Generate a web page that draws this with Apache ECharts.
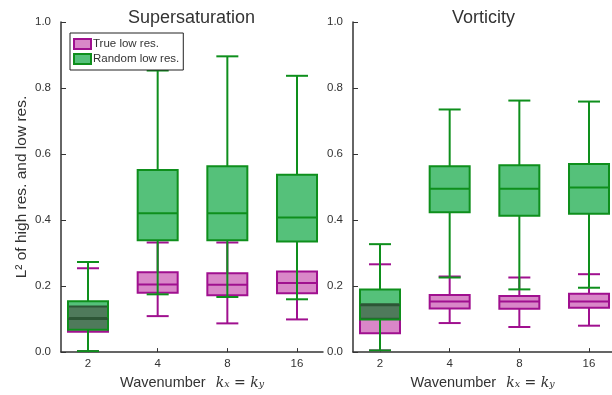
<!DOCTYPE html>
<html>
<head>
<meta charset="utf-8">
<script src="https://cdn.jsdelivr.net/npm/echarts@6/dist/echarts.min.js"></script>
<style>
  html, body { margin: 0; padding: 0; background: #fff; }
  #main { width: 612px; height: 395px; }
</style>
</head>
<body>
<div id="main"></div>
<script>
// x categories
var waves = ['2', '4', '8', '16'];

// each box: [min, Q1, median, Q3, max]
var satTrue = [
  [0.003, 0.062, 0.103, 0.138, 0.254],
  [0.109, 0.180, 0.205, 0.242, 0.332],
  [0.087, 0.172, 0.204, 0.239, 0.332],
  [0.099, 0.178, 0.209, 0.244, 0.340]
];
var satRandom = [
  [0.003, 0.068, 0.100, 0.154, 0.273],
  [0.175, 0.339, 0.421, 0.552, 0.853],
  [0.167, 0.339, 0.421, 0.563, 0.896],
  [0.160, 0.335, 0.408, 0.537, 0.837]
];
var vorTrue = [
  [0.005, 0.057, 0.101, 0.145, 0.266],
  [0.088, 0.132, 0.153, 0.173, 0.229],
  [0.076, 0.131, 0.153, 0.170, 0.226],
  [0.080, 0.134, 0.153, 0.177, 0.236]
];
var vorRandom = [
  [0.005, 0.099, 0.142, 0.190, 0.327],
  [0.226, 0.424, 0.495, 0.563, 0.735],
  [0.190, 0.413, 0.495, 0.566, 0.762],
  [0.195, 0.419, 0.499, 0.570, 0.759]
];

var pinkFill = '#d987c8', pinkLine = '#a0108f';
var greenFill = '#55c17a', greenLine = '#0e8f1c';
var mixFill = '#4f7a5b', mixLine = '#2d5636';   // where the two boxes overlap
var font = 'Liberation Sans, Arial, sans-serif';

function toData(list){
  return list.map(function(v, i){ return [i].concat(v); });
}

// under = the other series' boxes drawn below this one (for the darker overlap)
function boxRenderer(fill, stroke, under){
  return function(params, api){
    var x = api.value(0);
    var p = [];
    for (var i = 1; i <= 5; i++) p.push(api.coord([x, api.value(i)]));
    var cx = p[0][0], hw = 20, cw = 11;
    var ls = {stroke: stroke, lineWidth: 2, fill: null};
    var kids = [
      {type: 'line', shape: {x1: cx, y1: p[4][1], x2: cx, y2: p[3][1]}, style: ls},
      {type: 'line', shape: {x1: cx, y1: p[0][1], x2: cx, y2: p[1][1]}, style: ls},
      {type: 'line', shape: {x1: cx - cw, y1: p[4][1], x2: cx + cw, y2: p[4][1]}, style: ls},
      {type: 'line', shape: {x1: cx - cw, y1: p[0][1], x2: cx + cw, y2: p[0][1]}, style: ls},
      {type: 'rect', shape: {x: cx - hw, y: p[3][1], width: 2 * hw, height: p[1][1] - p[3][1]},
        style: {fill: fill, stroke: null}}
    ];
    var medColor = stroke;
    if (under) {
      var u = under[params.dataIndex];
      var lo = Math.max(u[1], api.value(2)), hi = Math.min(u[3], api.value(4));
      if (hi > lo) {
        var a = api.coord([x, hi]), b = api.coord([x, lo]);
        kids.push({type: 'rect', shape: {x: cx - hw, y: a[1], width: 2 * hw, height: b[1] - a[1]},
          style: {fill: mixFill, stroke: null}});
        // lines of the lower box seen through the overlap
        [u[1], u[2], u[3]].forEach(function(v){
          if (v >= lo && v <= hi) {
            var q = api.coord([x, v]);
            kids.push({type: 'line', shape: {x1: cx - hw, y1: q[1], x2: cx + hw, y2: q[1]},
              style: {stroke: mixLine, lineWidth: 2}});
          }
        });
        if (api.value(3) >= lo && api.value(3) <= hi) medColor = mixLine;
      }
    }
    kids.push({type: 'rect', shape: {x: cx - hw, y: p[3][1], width: 2 * hw, height: p[1][1] - p[3][1]},
      style: {fill: null, stroke: stroke, lineWidth: 2}});
    kids.push({type: 'line', shape: {x1: cx - hw, y1: p[2][1], x2: cx + hw, y2: p[2][1]},
      style: {stroke: medColor, lineWidth: 2}});
    return {type: 'group', children: kids};
  };
}

function xAxisFor(idx, max){
  return {
    type: 'value', gridIndex: idx, min: -0.3876, max: max,
    axisLine: {onZero: false, lineStyle: {color: '#333', width: 1.5}},
    axisTick: {inside: true, length: 4, customValues: [0, 1, 2, 3], lineStyle: {color: '#333'}},
    axisLabel: {customValues: [0, 1, 2, 3], color: '#333', fontSize: 11.5, margin: 6,
      formatter: function(v){ return waves[Math.round(v)]; }},
    splitLine: {show: false},
    name: '{w|Wavenumber}   {m|k}{s|x}{m| = k}{s|y}',
    nameLocation: 'middle', nameGap: 17,
    nameTextStyle: {rich: {
      w: {fontSize: 14.5, color: '#333', fontFamily: font, verticalAlign: 'bottom', lineHeight: 18},
      m: {fontSize: 14, color: '#333', fontFamily: 'DejaVu Serif, serif', fontStyle: 'italic', verticalAlign: 'bottom', lineHeight: 18},
      s: {fontSize: 9.5, color: '#333', fontFamily: 'DejaVu Serif, serif', fontStyle: 'italic', verticalAlign: 'bottom', lineHeight: 14}
    }}
  };
}

function yAxisFor(idx, withName){
  var ax = {
    type: 'value', gridIndex: idx, min: 0, max: 1, interval: 0.2,
    axisLine: {show: true, onZero: false, lineStyle: {color: '#333', width: 1.5}},
    axisTick: {show: true, inside: true, length: 5, lineStyle: {color: '#333'}},
    axisLabel: {color: '#333', fontSize: 11.5, margin: 10,
      formatter: function(v){ return v.toFixed(1); }},
    splitLine: {show: false}
  };
  if (withName) {
    ax.name = 'L\u00b2 of high res. and low res.';
    ax.nameLocation = 'middle';
    ax.nameGap = 31;
    ax.nameTextStyle = {fontSize: 15.5, color: '#333', fontFamily: font};
  }
  return ax;
}

function boxSeries(name, list, idx, fill, stroke, under){
  return {
    name: name, type: 'custom', xAxisIndex: idx, yAxisIndex: idx,
    data: toData(list), encode: {x: 0, y: [1, 2, 3, 4, 5]},
    itemStyle: {color: fill, borderColor: stroke},
    clip: false, silent: true,
    renderItem: boxRenderer(fill, stroke, under)
  };
}

var myChart = echarts.init(document.getElementById('main'), null, {renderer: 'canvas'});
myChart.setOption({
  animation: false,
  backgroundColor: '#fff',
  textStyle: {fontFamily: font},
  title: [
    {text: 'Supersaturation', left: 128, top: 9, padding: 0,
      textStyle: {fontSize: 18, fontWeight: 'normal', color: '#333'}},
    {text: 'Vorticity', left: 452, top: 9, padding: 0,
      textStyle: {fontSize: 18, fontWeight: 'normal', color: '#333'}}
  ],
  legend: {
    left: 70, top: 33, orient: 'vertical', itemGap: 3,
    itemWidth: 17, itemHeight: 10, padding: [5, 4, 5, 3],
    backgroundColor: '#fff', borderColor: '#222', borderWidth: 1,
    textStyle: {fontSize: 11.5, color: '#333', padding: [0, 0, 0, -3]},
    data: [
      {name: 'True low res.', icon: 'rect', itemStyle: {color: pinkFill, borderColor: pinkLine, borderWidth: 2}},
      {name: 'Random low res.', icon: 'rect', itemStyle: {color: greenFill, borderColor: greenLine, borderWidth: 2}}
    ]
  },
  grid: [
    {left: 61, top: 22, width: 262, height: 339},
    {left: 353, top: 22, width: 259, height: 339}
  ],
  xAxis: [xAxisFor(0, 3.373), xAxisFor(1, 3.33)],
  yAxis: [yAxisFor(0, true), yAxisFor(1, false)],
  series: [
    boxSeries('True low res.', satTrue, 0, pinkFill, pinkLine, null),
    boxSeries('Random low res.', satRandom, 0, greenFill, greenLine, satTrue),
    boxSeries('True low res.', vorTrue, 1, pinkFill, pinkLine, null),
    boxSeries('Random low res.', vorRandom, 1, greenFill, greenLine, vorTrue)
  ]
});
</script>
</body>
</html>
